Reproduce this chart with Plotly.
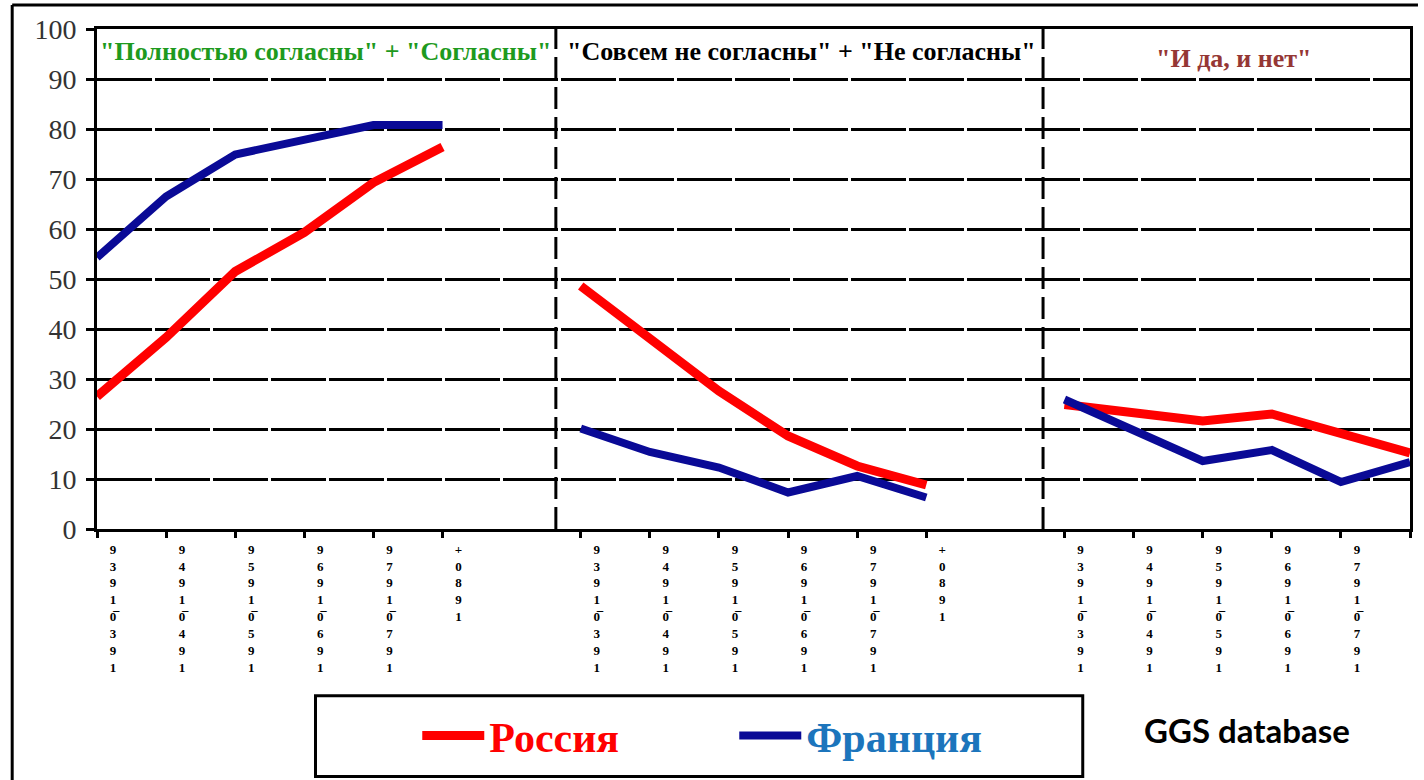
import plotly.graph_objects as go

# ---- data ----
periods = ["1930-1939", "1940-1949", "1950-1959", "1960-1969", "1970-1979", "1980+"]
sections = ['"Полностью согласны" + "Согласны"',
            '"Совсем не согласны" + "Не согласны"',
            '"И да, и нет"']
russia_agree = [26.5, 38.3, 51.5, 59.3, 69.3, 76.4]
france_agree = [54.3, 66.5, 74.9, 77.8, 80.8, 80.8]
russia_disagree = [48.6, 38.3, 27.6, 18.6, 12.6, 8.8]
france_disagree = [20.1, 15.4, 12.3, 7.3, 10.6, 6.3]
russia_neutral = [24.9, 23.3, 21.6, 23.0, 19.0, 15.2]
france_neutral = [25.9, 19.6, 13.6, 15.8, 9.4, 13.4]
y_ticks = [0, 10, 20, 30, 40, 50, 60, 70, 80, 90, 100]

RED = "#FF0000"
BLUE = "#0A0A96"
SERIF = "Liberation Serif"

n = len(periods)
offsets = [0, n + 1, 2 * (n + 1)]
xs = [[o + i for i in range(n)] for o in offsets]

fig = go.Figure()
russia = [russia_agree, russia_disagree, russia_neutral]
france = [france_agree, france_disagree, france_neutral]
for k in range(3):
    fig.add_trace(go.Scatter(
        x=xs[k], y=russia[k], mode="lines",
        line=dict(color=RED, width=9),
        name='<b><span style="color:#FF0000">Россия</span></b>',
        legendgroup="ru", showlegend=(k == 0)))
for k in range(3):
    fig.add_trace(go.Scatter(
        x=xs[k], y=france[k], mode="lines",
        line=dict(color=BLUE, width=8),
        name='<b><span style="color:#1C75BC">Франция</span></b>',
        legendgroup="fr", showlegend=(k == 0)))


def stack(label):
    chars = list(reversed(label))
    rows = []
    i = 0
    while i < len(chars):
        if chars[i] == "-" and i + 1 < len(chars):
            rows.append(chars[i + 1] + "\u0305")
            i += 2
        else:
            rows.append(chars[i])
            i += 1
    return "<br>".join(rows)


tickvals = [x for grp in xs for x in grp]
ticktext = [stack(p) for p in periods] * 3

fig.update_xaxes(
    range=[0, offsets[2] + n - 1],
    tickmode="array", tickvals=tickvals, ticktext=ticktext,
    tickangle=0, ticklabelshift=16,
    ticks="outside", ticklen=6, tickwidth=3, tickcolor="black",
    tickfont=dict(family=SERIF, size=13, color="black", weight="bold"),
    showline=True, linecolor="black", linewidth=3, mirror=True,
    showgrid=False, zeroline=False,
)
fig.update_yaxes(
    range=[0, 100], tickmode="array", tickvals=y_ticks,
    ticks="outside", ticklen=8, tickwidth=3, tickcolor="black",
    tickfont=dict(family=SERIF, size=28, color="#333333"),
    ticklabelstandoff=4,
    showline=True, linecolor="black", linewidth=3, mirror=True,
    showgrid=True, gridcolor="black", gridwidth=3, griddash="55px,3px",
    zeroline=False,
)

# section separators
for sx in [6.64, 13.69]:
    fig.add_shape(type="line", xref="x", yref="paper", x0=sx, x1=sx, y0=0, y1=1,
                  line=dict(color="black", width=3, dash="22px,8px"))

# section titles
title_pos = [(3.31, 0.955, "#1E9A1E"), (10.2, 0.955, "black"), (16.45, 0.942, "#953735")]
for (tx, ty, col), txt in zip(title_pos, sections):
    fig.add_annotation(x=tx, y=ty, xref="x", yref="paper", text="<b>" + txt + "</b>",
                       showarrow=False, xanchor="center", yanchor="middle",
                       font=dict(family=SERIF, size=26, color=col))

# legend box
fig.add_shape(type="rect", xref="paper", yref="paper",
              x0=(316 - 97) / 1316, x1=(1085 - 97) / 1316,
              y0=(530 - 778) / 501, y1=(530 - 697) / 501,
              line=dict(color="black", width=3))
fig.add_annotation(x=(1250 - 97) / 1316, y=(530 - 731) / 501, xref="paper", yref="paper",
                   text="<b>GGS database</b>", showarrow=False,
                   xanchor="center", yanchor="middle",
                   font=dict(family="Lato", size=33, color="black"))

# outer frame (left & top)
fig.add_shape(type="line", xref="paper", yref="paper",
              x0=(12 - 97) / 1316, x1=(1421 - 97) / 1316,
              y0=(530 - 5) / 501, y1=(530 - 5) / 501,
              line=dict(color="black", width=3))
fig.add_shape(type="line", xref="paper", yref="paper",
              x0=(12 - 97) / 1316, x1=(12 - 97) / 1316,
              y0=(530 - 5) / 501, y1=(530 - 790) / 501,
              line=dict(color="black", width=3))

fig.update_layout(
    width=1424, height=780,
    margin=dict(l=97, r=11, t=29, b=250),
    paper_bgcolor="white", plot_bgcolor="white",
    showlegend=True,
    legend=dict(orientation="h", x=(418 - 97) / 1316, y=(530 - 737) / 501,
                xanchor="left", yanchor="middle",
                font=dict(family=SERIF, size=42),
                itemwidth=62,
                entrywidth=240, entrywidthmode="pixels",
                bgcolor="rgba(0,0,0,0)", itemclick=False),
)

fig.write_html("out.html", config={"displayModeBar": False},
               post_script="document.body.style.margin='0';document.body.style.overflow='hidden';")
